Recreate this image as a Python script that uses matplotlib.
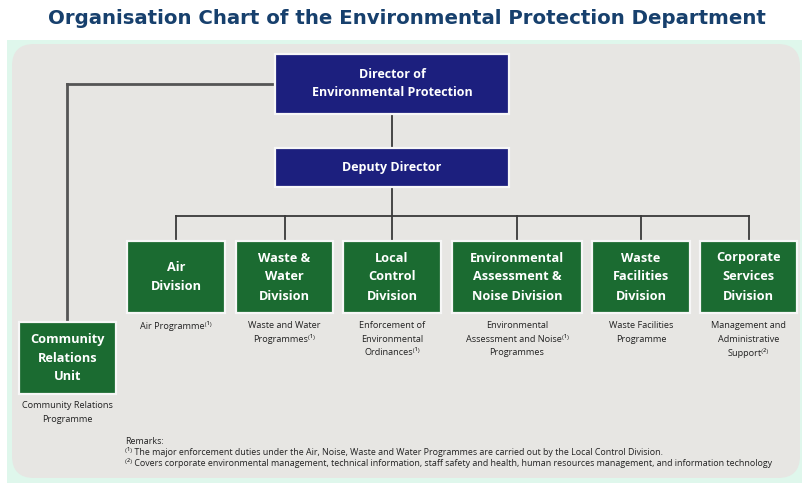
import matplotlib
matplotlib.use("Agg")
import matplotlib.pyplot as plt
from matplotlib.patches import FancyBboxPatch, Rectangle

# Chart content
title = "Organisation Chart of the Environmental Protection Department"
director = "Director of\nEnvironmental Protection"
deputy = "Deputy Director"
divisions = [
    "Air\nDivision",
    "Waste &\nWater\nDivision",
    "Local\nControl\nDivision",
    "Environmental\nAssessment &\nNoise Division",
    "Waste\nFacilities\nDivision",
    "Corporate\nServices\nDivision",
]
programmes = [
    ["Air Programme⁽¹⁾"],
    ["Waste and Water", "Programmes⁽¹⁾"],
    ["Enforcement of", "Environmental", "Ordinances⁽¹⁾"],
    ["Environmental", "Assessment and Noise⁽¹⁾", "Programmes"],
    ["Waste Facilities", "Programme"],
    ["Management and", "Administrative", "Support⁽²⁾"],
]
unit = "Community\nRelations\nUnit"
unit_programme = ["Community Relations", "Programme"]
remarks = [
    "Remarks:",
    "⁽¹⁾ The major enforcement duties under the Air, Noise, Waste and Water Programmes are carried out by the Local Control Division.",
    "⁽²⁾ Covers corporate environmental management, technical information, staff safety and health, human resources management, and information technology",
]

navy = "#1c1f7e"
green = "#1b6b31"
line_c = "#3a3a3a"
txt_c = "#222222"
box_font = ["Open Sans", "DejaVu Sans"]

fig = plt.figure(figsize=(8.02, 4.83), dpi=100)
ax = fig.add_axes([0, 0, 1, 1])
ax.set_xlim(0, 802)
ax.set_ylim(483, 0)
ax.axis("off")

# title
ax.text(407, 19, title, ha="center", va="center", fontsize=14.2,
        fontweight="bold", color="#17406d", family="DejaVu Sans")

# backgrounds
ax.add_patch(Rectangle((7, 40), 795, 443, color="#dff7ec", lw=0))
ax.add_patch(FancyBboxPatch((12, 44), 788, 434, boxstyle="round,pad=0,rounding_size=22",
                            fc="#e7e6e3", ec="none"))


def box(x0, y0, x1, y1, text, fc, fs=9.2, ls=1.6):
    ax.add_patch(Rectangle((x0, y0), x1 - x0, y1 - y0, fc=fc, ec="#f7f7f7", lw=1.6, zorder=3))
    ax.text((x0 + x1) / 2, (y0 + y1) / 2, text, ha="center", va="center", color="white",
            fontsize=fs, fontweight="bold", family=box_font, linespacing=ls, zorder=4)


def sublabel(x, y0, lines):
    for k, s in enumerate(lines):
        ax.text(x, y0 + k * 13.3, s, ha="center", va="center", fontsize=6.6,
                color=txt_c, family=box_font)


# connectors
cx = 392
ax.plot([67, 275], [84, 84], color="#555555", lw=2, zorder=2)
ax.plot([67, 67], [84, 322], color="#555555", lw=2, zorder=2)
ax.plot([cx, cx], [114, 216], color=line_c, lw=1.3, zorder=2)

# top boxes
box(275, 54, 509, 114, director, navy, fs=9, ls=1.5)
box(275, 148, 509, 187, deputy, navy, fs=9)

# division boxes
lefts = [127, 236, 343, 452, 592, 700]
rights = [225, 333, 441, 582, 690, 797]
centers = [(l + r) / 2 for l, r in zip(lefts, rights)]
ax.plot([centers[0], centers[-1]], [216, 216], color=line_c, lw=1.3, zorder=2)
for l, r, c, name, prog in zip(lefts, rights, centers, divisions, programmes):
    ax.plot([c, c], [216, 241], color=line_c, lw=1.3, zorder=2)
    box(l, 241, r, 313, name, green)
    sublabel(c, 326, prog)

# community relations unit
box(19, 322, 116, 394, unit, green)
sublabel(67, 406, unit_programme)

# remarks
for i, line in enumerate(remarks):
    ax.text(125, 441 + i * 11, line, ha="left", va="center", fontsize=6.4,
            color=txt_c, family=box_font)

fig.savefig("out.png", dpi=100)
